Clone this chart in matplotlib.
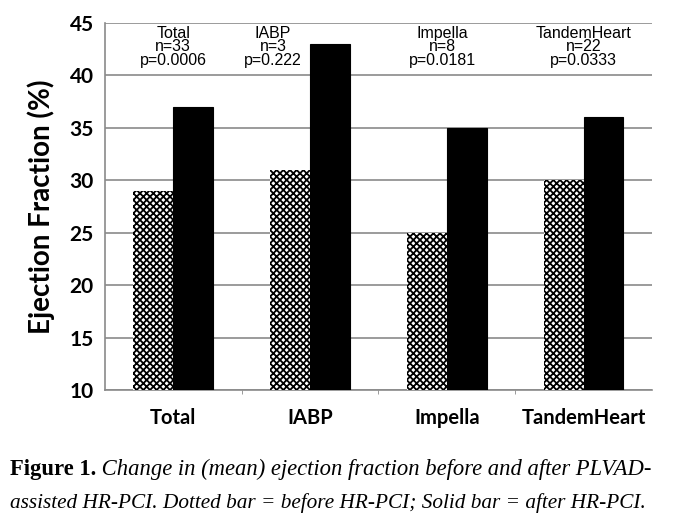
import matplotlib.pyplot as plt
import numpy as np

categories = ["Total", "IABP", "Impella", "TandemHeart"]
before = [29, 31, 25, 30]
after = [37, 43, 35, 36]
notes = ["Total\nn=33\np=0.0006", "IABP\nn=3\np=0.222",
         "Impella\nn=8\np=0.0181", "TandemHeart\nn=22\np=0.0333"]
note_x = [0.0, 0.73, 1.97, 3.0]

plt.rcParams["hatch.linewidth"] = 1.3
plt.rcParams["font.family"] = ["Lato", "DejaVu Sans"]

fig = plt.figure(figsize=(6.8, 5.26), dpi=100)
ax = fig.add_axes([0.154, 0.2586, 0.805, 0.6977])

x = np.arange(len(categories))
w = 0.29
ax.bar(x - w / 2, before, w, color="white", edgecolor="black",
       hatch="xxxxx", linewidth=0, zorder=3)
ax.bar(x + w / 2, after, w, color="black", edgecolor="black", linewidth=0.8, zorder=3)

ax.set_ylim(10, 45)
ax.set_xlim(-0.5, 3.5)
ax.set_yticks(np.arange(10, 46, 5))
ax.yaxis.grid(True, color="#8a8a8a", linewidth=1.2, zorder=0)
ax.set_axisbelow(True)

for side in ["top", "right"]:
    ax.spines[side].set_visible(False)
for side in ["left", "bottom"]:
    ax.spines[side].set_color("#8a8a8a")
    ax.spines[side].set_linewidth(1.2)

ax.set_xticks(x)
ax.set_xticklabels(categories, fontsize=14.5, fontweight="bold")
ax.set_xticks([0.5, 1.5, 2.5], minor=True)
ax.tick_params(axis="x", which="major", length=0, pad=13)
ax.tick_params(axis="x", which="minor", length=3, color="#8a8a8a")
ax.tick_params(axis="y", length=0, pad=8, labelsize=15)
for lab in ax.get_yticklabels():
    lab.set_fontweight("bold")
ax.set_ylabel("Ejection Fraction (%)", fontsize=20, fontweight="bold", labelpad=10)

for nx, txt in zip(note_x, notes):
    ax.text(nx, 44.75, txt, ha="center", va="top", fontsize=11.5, linespacing=0.88,
            family="Liberation Sans", zorder=4,
            bbox=dict(facecolor="white", edgecolor="none", pad=0.5))

t1 = fig.text(0.015, 0.097, "Figure 1.", fontsize=16.3, fontweight="bold",
              family="Liberation Serif")
ax.annotate(" Change in (mean) ejection fraction before and after PLVAD-",
            xy=(1, 0), xycoords=t1, va="bottom", ha="left", fontsize=16.3,
            style="italic", family="Liberation Serif", annotation_clip=False)
fig.text(0.015, 0.035, "assisted HR-PCI. Dotted bar = before HR-PCI; Solid bar = after HR-PCI.",
         fontsize=15.3, style="italic", family="Liberation Serif")

fig.savefig("out.png", dpi=100)
